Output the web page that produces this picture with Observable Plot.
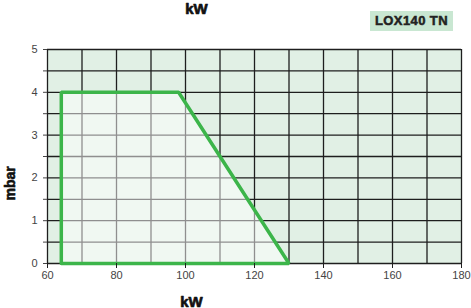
<!DOCTYPE html>
<html>
<head>
<meta charset="utf-8">
<script src="https://cdn.jsdelivr.net/npm/d3@7"></script>
<script src="https://cdn.jsdelivr.net/npm/@observablehq/plot@0.6"></script>
<style>
  html, body { margin: 0; padding: 0; background: #fff; }
  #wrap { position: relative; width: 471px; height: 308px; font-family: "Liberation Sans", Arial, sans-serif; }
  #badge { position: absolute; left: 370px; top: 11px; width: 83px; height: 20px; background: #c9e7d2;
           font: bold 13px "Liberation Sans", Arial, sans-serif; color: #222; text-align: center; line-height: 20px; letter-spacing: 0.4px;
           -webkit-text-stroke: 0.5px #222; }
</style>
</head>
<body>
<div id="wrap"><div id="badge">LOX140 TN</div></div>
<script>
const modelName = "LOX140 TN";
const xUnit = "kW";
const yUnit = "mbar";
const xTicks = [60, 80, 100, 120, 140, 160, 180];
const xGrid = [60, 70, 80, 90, 100, 110, 120, 130, 140, 150, 160, 170, 180];
const yTicks = [0, 0.5, 1, 1.5, 2, 2.5, 3, 3.5, 4, 4.5, 5];
const boundaryKW = [64, 64, 98, 130, 64];
const boundaryMbar = [0, 4, 4, 0, 0];

const pts = boundaryKW.map((x, i) => ({x, y: boundaryMbar[i]}));
const areaPts = pts.slice(0, 4);

const chart = Plot.plot({
  width: 471,
  height: 308,
  marginLeft: 47,
  marginRight: 10,
  marginTop: 49,
  marginBottom: 45,
  style: {fontFamily: "Liberation Sans, Arial, sans-serif", fontSize: "11px", color: "#444", background: "transparent"},
  x: {domain: [60, 180]},
  y: {domain: [0, 5]},
  marks: [
    Plot.frame({fill: "#e1f0e5", stroke: null}),
    Plot.ruleX(xGrid, {stroke: "#1e1e1e", strokeWidth: 1.3}),
    Plot.ruleY(yTicks, {stroke: "#1e1e1e", strokeWidth: 1.3}),
    Plot.areaY(areaPts, {x: "x", y: "y", fill: "#ffffff", fillOpacity: 0.5, curve: "linear"}),
    Plot.line(pts, {x: "x", y: "y", stroke: "#3cb54a", strokeWidth: 3.5, strokeLinejoin: "miter"}),
    Plot.axisX({ticks: xTicks, tickSize: 5, label: null, tickPadding: 3, stroke: "#1e1e1e"}),
    Plot.axisY({ticks: yTicks, tickSize: 4, label: null, tickPadding: 6,
      tickFormat: d => Number.isInteger(d) ? String(d) : ""}),
    Plot.text([xUnit], {frameAnchor: "top-left", dx: 149, dy: -46, text: d => d, textAnchor: "middle",
      fontWeight: "bold", fontSize: 15, fill: "#111", stroke: "#111", strokeWidth: 0.7}),
    Plot.text([xUnit], {frameAnchor: "bottom-left", dx: 144, dy: 43, text: d => d, textAnchor: "middle",
      fontWeight: "bold", fontSize: 15, fill: "#111", stroke: "#111", strokeWidth: 0.7}),
    Plot.text([yUnit], {frameAnchor: "left", dx: -37, dy: 44, rotate: -90, text: d => d,
      fontWeight: "bold", fontSize: 14, fill: "#111", stroke: "#111", strokeWidth: 0.6})
  ]
});
document.getElementById("wrap").prepend(chart);
chart.style.position = "absolute";
chart.style.left = "0";
chart.style.top = "0";
</script>
</body>
</html>
